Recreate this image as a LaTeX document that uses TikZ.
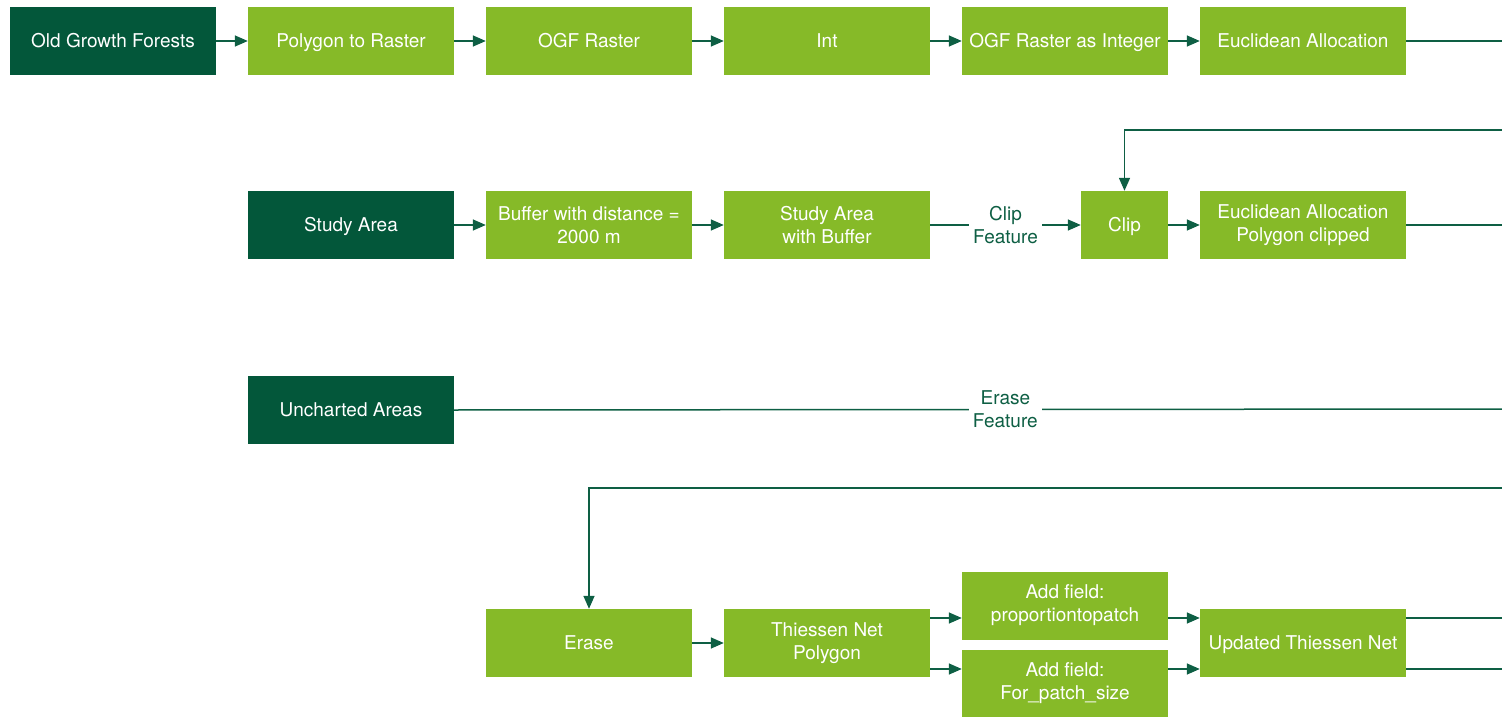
\documentclass[tikz,border=0pt]{standalone}
\usepackage{fontspec}
\setmainfont{TeX Gyre Heros}
\usetikzlibrary{arrows.meta}
\definecolor{dkg}{HTML}{03573A}
\definecolor{ltg}{HTML}{86BA28}
\definecolor{lnc}{HTML}{0E5F44}
\begin{document}
\begin{tikzpicture}[x=1pt,y=-1pt,
  box/.style={fill=ltg,text=white,minimum width=206pt,minimum height=68pt,inner sep=0pt,align=center,font=\fontsize{19}{23}\selectfont},
  one/.style={text height=17pt,text depth=4pt},
  src/.style={box,one,fill=dkg},
  conn/.style={draw=lnc,line width=1.5pt},
  arr/.style={conn,-{Triangle[length=13pt,width=11pt]}},
  lab/.style={fill=white,text=lnc,align=center,inner sep=4pt,font=\fontsize{19}{23}\selectfont}]
\useasboundingbox (0,0) rectangle (1502,717);
% row 1
\node[src] (ogf) at (113,41) {Old Growth Forests};
\node[box,one] (p2r) at (351,41) {Polygon to Raster};
\node[box,one] (ogfr) at (589,41) {OGF Raster};
\node[box,one] (int) at (827,41) {Int};
\node[box,one] (ogfi) at (1065,41) {OGF Raster as Integer};
\node[box,one] (eua) at (1303,41) {Euclidean Allocation};
\coordinate (r1) at (1502,41);
% row 2
\node[src] (sa) at (351,225) {Study Area};
\node[box] (buf) at (589,225) {Buffer with distance =\\2000 m};
\node[box] (sab) at (827,225) {Study Area\\with Buffer};
\node[box,one,minimum width=87pt] (clip) at (1124.5,225) {Clip};
\node[box] (euc) at (1303,225) {Euclidean Allocation\\Polygon clipped};
\coordinate (r2) at (1502,225);
\coordinate (r2t) at (1502,130);
% row 3
\node[src] (ua) at (351,410) {Uncharted Areas};
\coordinate (r3) at (1502,409);
% row 4
\coordinate (r4) at (1502,488);
\node[box,one] (erase) at (589,643) {Erase};
\node[box] (thn) at (827,643) {Thiessen Net\\Polygon};
\node[box] (af1) at (1065,605.5) {Add field:\\proportiontopatch};
\node[box] (af2) at (1065,683.5) {Add field:\\For\_patch\_size};
\node[box,one] (utn) at (1303,643) {Updated Thiessen Net};
\coordinate (r5) at (1502,618);
\coordinate (r6) at (1502,669);
% connectors row 1
\draw[arr] (ogf) -- (p2r);
\draw[arr] (p2r) -- (ogfr);
\draw[arr] (ogfr) -- (int);
\draw[arr] (int) -- (ogfi);
\draw[arr] (ogfi) -- (eua);
\draw[conn] (eua) -- (r1);
% row 2
\draw[arr] (sa) -- (buf);
\draw[arr] (buf) -- (sab);
\draw[arr] (sab) -- node[lab] {Clip\\Feature} (clip);
\draw[arr] (clip) -- (euc);
\draw[conn] (euc) -- (r2);
\draw[arr] (r2t) -| (clip.north);
% row 3
\draw[conn] (ua.east) -- node[lab,pos=0.526] {Erase\\Feature} (r3);
% row 4
\draw[arr] (r4) -| (erase.north);
\draw[arr] (erase) -- (thn);
\draw[arr] (thn.east |- r5) -- (af1.west |- r5);
\draw[arr] (thn.east |- r6) -- (af2.west |- r6);
\draw[arr] (af1.east |- r5) -- (utn.west |- r5);
\draw[arr] (af2.east |- r6) -- (utn.west |- r6);
\draw[conn] (utn.east |- r5) -- (r5);
\draw[conn] (utn.east |- r6) -- (r6);
\end{tikzpicture}
\end{document}
